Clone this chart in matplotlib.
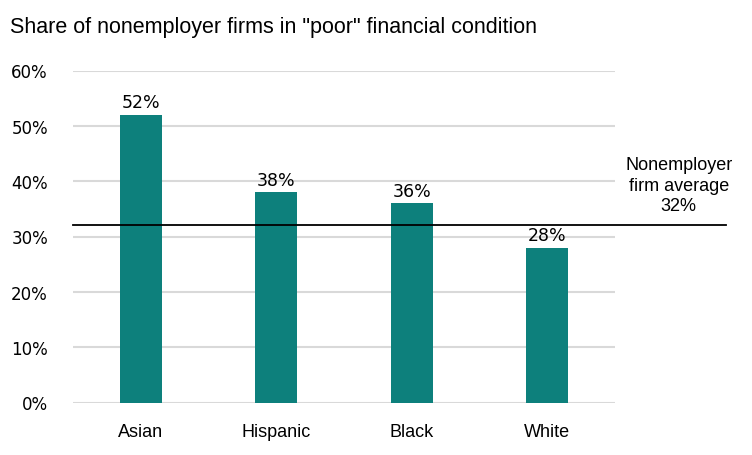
import matplotlib.pyplot as plt

plt.rcParams['font.family'] = ['Liberation Sans', 'DejaVu Sans']

groups = ['Asian', 'Hispanic', 'Black', 'White']
shares = [52, 38, 36, 28]
average = 32
yticks = [0, 10, 20, 30, 40, 50, 60]

fig = plt.figure(figsize=(7.52, 4.56), dpi=100)
ax = fig.add_axes([73/752, 1-403.5/456, 542/752, 332/456])

x = range(len(groups))
ax.bar(x, shares, width=0.31, color='#0d807c', zorder=2)
for i, v in zip(x, shares):
    ax.text(i, v + 0.6, f'{v}%', ha='center', va='bottom', fontsize=12.5,
            family='DejaVu Sans')

ax.set_xlim(-0.5, 3.5)
ax.set_ylim(0, 60)
ax.set_yticks(yticks)
ax.set_yticklabels([f'{t}%' for t in yticks], fontsize=12, family='DejaVu Sans')
ax.set_xticks(list(x))
ax.set_xticklabels(groups, fontsize=13)
ax.tick_params(length=0)
ax.tick_params(axis='y', pad=18)
ax.tick_params(axis='x', pad=15)
ax.grid(axis='y', color='#d9d9d9', linewidth=1.5, zorder=0)
for s in ax.spines.values():
    s.set_visible(False)

# average line runs past the plot area to the label
ax.plot([-0.5, 4.32], [average, average], color='black', linewidth=1.3, clip_on=False, zorder=3)
ax.text(3.97, 39.3, 'Nonemployer\nfirm average\n32%', ha='center', va='center',
        fontsize=13, linespacing=1.3)

fig.text(10/752, 1-28/456, 'Share of nonemployer firms in "poor" financial condition',
         fontsize=15.5, va='center', ha='left')

plt.savefig('out.png', dpi=100)
